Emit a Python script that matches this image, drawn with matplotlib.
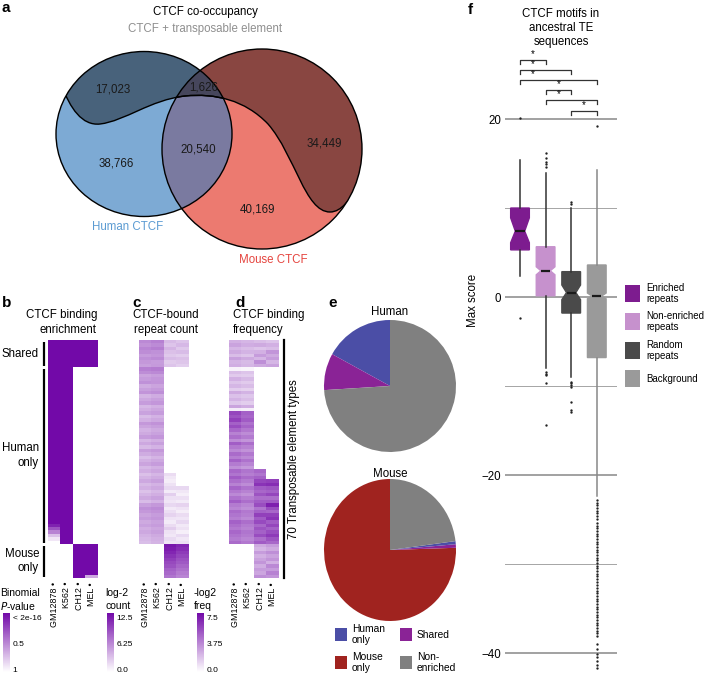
import numpy as np
import matplotlib
matplotlib.use("Agg")
import matplotlib.pyplot as plt
import matplotlib.cm as cm
from matplotlib.patches import Ellipse, PathPatch, Rectangle
from matplotlib.path import Path
from matplotlib.colors import LinearSegmentedColormap, Normalize

plt.rcParams['font.family'] = ['Liberation Sans', 'DejaVu Sans']

# ---------------- data ----------------
# a: venn counts
venn_counts = [17023, 1626, 38766, 20540, 34449, 40169]

# b-d: 70 TE types x 4 cell lines
cell_lines = ["GM12878", "K562", "CH12", "MEL"]
group_names = ["Shared", "Human\nonly", "Mouse\nonly"]
group_sizes = [8, 52, 10]

# b: binomial P-value
gm_b = [0.0] * 8 + [0.0] * 46 + [0.1, 0.3, 0.5, 0.75, 0.9, 1.0] + [1.0] * 10
k562_b = [0.0] * 8 + [0.0] * 52 + [1.0] * 10
ch12_b = [0.0] * 8 + [1.0] * 52 + [0.0] * 10
mel_b = [0.0] * 8 + [1.0] * 52 + [0.0] * 9 + [0.65]

# c: log-2 count of CTCF-bound repeats
gm_c = [6.0, 5.5, 6.2, 5.8, 5.0, 5.6, 5.2, 4.8,
        6.4, 5.8, 4.6, 5.0, 5.6, 4.2, 4.8, 5.4, 3.8, 4.4,
        5.0, 3.6, 4.1, 4.7, 3.4, 4.0, 5.2, 4.6, 3.9, 4.3,
        5.0, 3.7, 4.4, 3.5, 4.9, 4.2, 3.3, 4.0, 4.6, 3.6,
        4.1, 3.2, 3.8, 4.4, 3.5, 4.0, 3.1, 3.7, 4.3, 3.4,
        4.8, 5.6, 5.2, 4.6, 5.0, 4.3, 4.7, 4.1, 4.4, 3.9,
        3.6, 3.3] + [None] * 10
k562_c = [6.4, 5.9, 6.5, 5.6, 5.3, 5.9, 5.0, 5.1,
          6.6, 6.0, 4.9, 5.3, 5.4, 4.6, 5.1, 5.7, 4.2, 4.8,
          5.3, 4.0, 4.5, 5.0, 3.9, 4.4, 5.5, 4.9, 4.3, 4.7,
          5.3, 4.1, 4.8, 3.9, 5.2, 4.6, 3.8, 4.4, 5.0, 4.0,
          4.5, 3.7, 4.2, 4.8, 3.9, 4.4, 3.6, 4.1, 4.7, 3.9,
          5.2, 5.9, 5.5, 5.0, 5.3, 4.7, 5.0, 4.5, 4.8, 4.3,
          4.0, 3.8] + [None] * 10
ch12_c = ([3.5, 3.0, 3.8, 3.2, 2.8, 3.4, 2.6, 3.0] + [None] * 31 +
          [1.8, 1.2, 0.9, 1.5, 2.0, 1.0, 2.4, 1.6, 1.3, 2.0, 1.1,
           1.7, 2.2, 1.4, 1.0, 1.8, 2.5, 1.5, 1.2, 1.9, 1.4] +
          [11.8, 11.5, 11.0, 10.4, 9.8, 9.2, 8.8, 8.0, 7.6, 7.0])
mel_c = ([3.0, 3.6, 2.8, 3.4, 2.5, 3.2, 2.9, 2.4] + [None] * 35 +
         [2.0, 1.2, 0.8, 1.6, 1.0, 2.2, 1.4, 0.9, 1.8, 1.3, 2.0,
          1.1, 1.5, 0.8, 1.9, 1.2, 1.6] +
         [11.0, 10.6, 10.0, 9.4, 8.8, 8.4, 7.8, 7.2, 6.6, 6.2])

# d: -log2 binding frequency
gm_d = ([2.4, 2.8, 2.2, 2.6, 2.0, 2.9, 2.3, 2.5] + [0.4] +
        [2.0, 1.6, 2.4, 1.8, 2.2, 1.5, 2.6, 1.9, 2.3, 1.7, 2.8] + [0.6] +
        [5.6, 5.2, 5.8, 4.8, 5.4, 4.6, 3.8, 4.4, 3.5, 4.9,
         4.1, 3.6, 4.5, 3.9, 4.8, 4.0, 3.4, 4.6, 4.2, 5.0,
         4.4, 3.8, 4.7, 4.1, 3.6, 4.3, 4.9, 4.0, 3.7, 4.5,
         4.2, 3.9, 4.8, 4.4, 4.1, 4.6, 4.3, 4.0, 4.5] + [None] * 10)
k562_d = ([2.2, 2.5, 2.0, 2.3, 1.8, 2.6, 2.1, 2.2] + [0.3] +
          [1.8, 1.5, 2.1, 1.6, 2.0, 1.4, 2.3, 1.7, 2.0, 1.5, 2.5] + [0.5] +
          [4.8, 4.6, 5.0, 4.3, 4.7, 4.1, 3.5, 4.0, 3.2, 4.4,
           3.8, 3.3, 4.1, 3.6, 4.3, 3.7, 3.1, 4.2, 3.9, 4.5,
           4.0, 3.5, 4.3, 3.8, 3.3, 3.9, 4.4, 3.7, 3.4, 4.1,
           3.9, 3.6, 4.4, 4.0, 3.8, 4.2, 4.0, 3.7, 4.1] + [None] * 10)
ch12_d = ([2.0, 2.6, 1.8, 2.4, 3.0, 2.2, 3.4, 2.6] + [None] * 30 +
          [4.6, 4.2, 4.8, 5.6, 6.2, 5.0, 4.6, 5.2, 4.4, 4.9, 5.4,
           4.2, 4.8, 5.8, 5.0, 5.5, 4.6, 5.2, 4.8, 5.4, 4.4, 5.0] +
          [2.6, 2.2, 3.0, 2.4, 2.8, 3.2, 2.5, 3.0, 2.7, 3.4])
mel_d = ([1.8, 2.4, 2.0, 3.2, 2.6, 3.0, 2.2, 2.8] + [None] * 33 +
         [5.8, 6.4, 5.2, 4.8, 5.6, 4.4, 5.0, 6.8, 5.4, 4.6,
          5.8, 6.2, 5.0, 5.6, 4.8, 5.4, 6.0, 5.2, 4.6] +
         [3.0, 2.6, 3.4, 2.8, 3.2, 2.4, 3.6, 3.0, 3.8, 3.2])

# e: pies
pie_names = ["Human\nonly", "Shared", "Mouse\nonly", "Non-\nenriched"]
pie_colors = ['#4b4ea6', '#8a2396', '#a0231f', '#808080']
human_pie = [0.17, 0.09, 0.0, 0.74]
mouse_pie = [0.007, 0.008, 0.755, 0.23]

# f: boxplot of max motif score
box_names = ["Enriched\nrepeats", "Non-enriched\nrepeats", "Random\nrepeats", "Background"]
box_colors = ['#7d1c8f', '#c691cd', '#4a4a4a', '#9a9a9a']
box_med = [7.4, 2.95, 0.5, 0.1]
box_q1 = [5.3, 0.15, -1.8, -6.8]
box_q3 = [10.0, 5.65, 2.85, 3.6]
box_lo = [2.4, -8.0, -9.0, -22.4]
box_hi = [15.4, 13.9, 10.0, 14.3]
notch_lo = [6.1, 2.5, -0.3, -0.2]
notch_hi = [8.9, 3.4, 1.35, 0.45]
fliers = [
    [20.1, -2.4],
    [14.6, 14.9, 15.2, 15.6, 16.2, -8.4, -8.6, -8.8, -9.7, -14.4],
    [10.5, 10.7, -9.5, -9.7, -9.9, -10.1, -11.8, -12.7, -12.9],
    [19.2, -22.8, -23.1, -23.4, -23.7, -24.0, -24.3, -24.6, -24.9, -25.4,
     -25.7, -26.0, -26.3, -26.6, -26.9, -27.2, -27.5, -27.8, -28.1, -28.4,
     -28.7, -29.0, -29.3, -29.6, -29.9, -30.2, -30.5, -30.8, -31.1, -31.4,
     -31.7, -32.0, -32.4, -32.7, -33.0, -33.3, -33.6, -33.9, -34.2, -34.5,
     -34.8, -35.1, -35.4, -35.7, -36.0, -36.3, -36.6, -36.9, -37.2, -37.5,
     -37.8, -38.1, -39.0, -39.6, -40.1, -40.5, -40.9, -41.3, -41.7],
]
sig_pairs = [(1, 2), (1, 3), (1, 4), (2, 3), (2, 4), (3, 4)]
sig_y = [26.6, 25.5, 24.4, 23.3, 22.1, 20.9]

# ---------------- figure ----------------
W, H = 705, 674
fig = plt.figure(figsize=(W / 100, H / 100), dpi=100)


def px_axes(x0, y0, x1, y1):
    ax = fig.add_axes([x0 / W, 1 - y1 / H, (x1 - x0) / W, (y1 - y0) / H])
    ax.patch.set_visible(False)
    return ax


ov = fig.add_axes([0, 0, 1, 1])
ov.set_xlim(0, W)
ov.set_ylim(H, 0)
ov.axis('off')

FS = 8.3
for letter, x, y in [('a', 2, 8), ('b', 2, 303), ('c', 132, 303), ('d', 235, 303),
                     ('e', 328, 303), ('f', 468, 10)]:
    ov.text(x, y, letter, fontsize=11, fontweight='bold', va='center', ha='left')

# ---- a: venn ----
ov.text(205, 12, "CTCF co-occupancy", fontsize=FS, ha='center', va='center')
ov.text(205, 29, "CTCF + transposable element", fontsize=FS, ha='center', va='center', color='#8f8f8f')

hum = dict(xy=(144, 134), width=176, height=165)
mou = dict(xy=(262, 149), width=200, height=200)
ov.add_patch(Ellipse(**hum, facecolor='#7daad4', edgecolor='none'))
ov.add_patch(Ellipse(**mou, facecolor='#ec7a70', edgecolor='none'))

hum_clip = Ellipse(**hum, transform=ov.transData)
mou_clip = Ellipse(**mou, transform=ov.transData)

curve = [(62, 86), (70, 108), (82, 126), (100, 124), (125, 121), (150, 100), (185, 96),
         (215, 93), (245, 100), (268, 124), (295, 155), (305, 212), (330, 212),
         (342, 212), (350, 198), (356, 190)]
curve_codes = [Path.MOVETO] + [Path.CURVE4] * 15
te_verts = curve + [(420, 190), (420, 15), (20, 15), (20, 86), (62, 86)]
te_codes = curve_codes + [Path.LINETO] * 4 + [Path.CLOSEPOLY]
te_path = Path(te_verts, te_codes)

p = ov.add_patch(PathPatch(te_path, facecolor='black', alpha=0.42, edgecolor='none'))
p.set_clip_path(mou_clip)
p = ov.add_patch(Ellipse(**mou, facecolor='#7a7aa0', edgecolor='none'))
p.set_clip_path(hum_clip)
p = ov.add_patch(PathPatch(te_path, facecolor='black', alpha=0.42, edgecolor='none'))
p.set_clip_path(hum_clip)

for clip in (hum_clip, mou_clip):
    p = ov.add_patch(PathPatch(Path(curve, curve_codes), facecolor='none', edgecolor='black', lw=1.0))
    p.set_clip_path(clip)
ov.add_patch(Ellipse(**hum, facecolor='none', edgecolor='black', lw=1.0))
ov.add_patch(Ellipse(**mou, facecolor='none', edgecolor='black', lw=1.0))

venn_pos = [(113, 89), (204, 88), (116, 163), (198, 150), (324, 143), (257, 210)]
for v, (x, y) in zip(venn_counts, venn_pos):
    ov.text(x, y, f"{v:,}", fontsize=FS, ha='center', va='center', color='#1a1a1a')
ov.text(128, 227, "Human CTCF", fontsize=FS, ha='center', va='center', color='#5b9bd2')
ov.text(273, 260, "Mouse CTCF", fontsize=FS, ha='center', va='center', color='#e5443e')

# ---- b, c, d: heatmaps ----
purple = LinearSegmentedColormap.from_list('pur', ['#ffffff', '#7209a8'])
purple.set_bad('white')


def to_arr(cols):
    return np.array([[np.nan if v is None else v for v in c] for c in cols]).T


hm_top, hm_bot = 340, 578
heat = [
    (48, 98, 1 - to_arr([gm_b, k562_b, ch12_b, mel_b]), 1.0),
    (139, 189, to_arr([gm_c, k562_c, ch12_c, mel_c]), 12.5),
    (229, 279, to_arr([gm_d, k562_d, ch12_d, mel_d]), 7.5),
]
for x0, x1, arr, vmax in heat:
    ax = px_axes(x0, hm_top, x1, hm_bot)
    ax.imshow(arr, cmap=purple, norm=Normalize(0, vmax), aspect='auto', interpolation='nearest')
    ax.axis('off')
    cw = (x1 - x0) / 4
    for i, name in enumerate(cell_lines):
        ov.text(x0 + cw * (i + 0.5), 582, name + " \u2022", rotation=90, fontsize=6.4,
                ha='center', va='top')

# titles
ov.text(97, 315, "CTCF binding", fontsize=FS, ha='right', va='center')
ov.text(97, 330, "enrichment", fontsize=FS, ha='right', va='center')
ov.text(166, 315, "CTCF-bound", fontsize=FS, ha='center', va='center')
ov.text(166, 330, "repeat count", fontsize=FS, ha='center', va='center')
ov.text(233, 315, "CTCF binding", fontsize=FS, ha='left', va='center')
ov.text(233, 330, "frequency", fontsize=FS, ha='left', va='center')

# group bars on b
row_h = (hm_bot - hm_top) / sum(group_sizes)
start = 0
for name, n in zip(group_names, group_sizes):
    y0 = hm_top + start * row_h + 1.5
    y1 = hm_top + (start + n) * row_h - 1.5
    ov.plot([44, 44], [y0, y1], color='black', lw=1.6, solid_capstyle='butt')
    ov.text(39, (y0 + y1) / 2, name, fontsize=FS, ha='right', va='center', linespacing=1.25)
    start += n

# 70 TE types bar
ov.plot([284, 284], [hm_top, hm_bot], color='black', lw=1.6)
ov.text(294, (hm_top + hm_bot) / 2, "70 Transposable element types", rotation=90,
        fontsize=FS, ha='center', va='center')

# colorbars (ticks sit a little inside the bar ends)
cb_top, cb_bot = 613, 672
cbars = [
    (3, 1.0, ["< 2e-16", "0.5", "1"]),
    (107, 12.5, ["12.5", "6.25", "0.0"]),
    (197, 7.5, ["7.5", "3.75", "0.0"]),
]
for x0, vmax, labels in cbars:
    cax = px_axes(x0, cb_top, x0 + 7, cb_bot)
    span = cb_bot - cb_top
    ticks = [vmax * (1 - 4 / span), vmax * (1 - 30 / span), vmax * (3 / span)]
    cb = fig.colorbar(cm.ScalarMappable(norm=Normalize(0, vmax), cmap=purple), cax=cax, ticks=ticks)
    cb.outline.set_visible(False)
    cb.ax.set_yticklabels(labels)
    cax.tick_params(length=0, labelsize=6, pad=2)
ov.text(0, 593, "Binomial", fontsize=7.5, ha='left', va='center')
ov.text(0, 606, "$\\it{P}$-value", fontsize=7.5, ha='left', va='center')
ov.text(105, 593, "log-2", fontsize=7.5, ha='left', va='center')
ov.text(105, 606, "count", fontsize=7.5, ha='left', va='center')
ov.text(194, 593, "-log2", fontsize=7.5, ha='left', va='center')
ov.text(194, 606, "freq", fontsize=7.5, ha='left', va='center')

# ---- e: pies ----
ov.text(390, 312, "Human", fontsize=FS, ha='center', va='center')
ov.text(390, 474, "Mouse", fontsize=FS, ha='center', va='center')
for box, vals, order in [((324, 320, 456, 452), human_pie, [0, 1, 2, 3]),
                         ((324, 479, 456, 621), mouse_pie, [2, 1, 0, 3])]:
    ax = px_axes(*box)
    v = [vals[i] for i in order if vals[i] > 0]
    c = [pie_colors[i] for i in order if vals[i] > 0]
    ax.pie(v, colors=c, startangle=90, counterclock=True, wedgeprops=dict(linewidth=0))
    ax.set_aspect('auto')
    ax.set_xlim(-1, 1)
    ax.set_ylim(-1, 1)

leg_pos = [(335, 628), (400, 628), (335, 656), (400, 656)]
for name, col, (x, y) in zip(pie_names, pie_colors, leg_pos):
    ov.add_patch(Rectangle((x, y), 12, 13, facecolor=col, edgecolor='none'))
    ov.text(x + 17, y + 6.5, name, fontsize=7.4, ha='left', va='center', linespacing=1.1)

# ---- f: boxplot ----
axf = px_axes(505, 48, 617, 672)
stats = []
for i in range(4):
    stats.append(dict(med=box_med[i], q1=box_q1[i], q3=box_q3[i], whislo=box_lo[i],
                      whishi=box_hi[i], fliers=fliers[i], cilo=notch_lo[i], cihi=notch_hi[i]))
bp = axf.bxp(stats, positions=[1, 2, 3, 4], widths=0.73, patch_artist=True, shownotches=True,
             showcaps=False, medianprops=dict(color='#1a1a1a', lw=1.6),
             whiskerprops=dict(color='#333333', lw=1.1),
             flierprops=dict(marker='o', markersize=1.7, markerfacecolor='#222222',
                             markeredgecolor='none'))
for i, patch in enumerate(bp['boxes']):
    patch.set_facecolor(box_colors[i])
    patch.set_edgecolor(box_colors[i])
for w in bp['whiskers'][6:]:
    w.set_color('#888888')

for y in [20, 0, -20, -40]:
    axf.axhline(y, color='#9a9a9a', lw=1.3, zorder=0)
for y in [10, -10, -30]:
    axf.axhline(y, color='#a5a5a5', lw=0.7, zorder=0)
axf.set_xlim(0.414, 4.79)
axf.set_ylim(-42.13, 27.98)
axf.set_yticks([20, 0, -20, -40])
axf.set_yticklabels(["20", "0", "\u221220", "\u221240"])
axf.set_xticks([])
axf.tick_params(length=0, labelsize=FS, pad=3)
for s in axf.spines.values():
    s.set_visible(False)

# brackets; the star sits over the first gap of each bracket
for (a, b), y in zip(sig_pairs, sig_y):
    axf.plot([a, a, b, b], [y - 0.45, y, y, y - 0.45], color='#333333', lw=0.9, clip_on=False)
    axf.text(a + 0.5, y + 0.1, "*", fontsize=7, ha='center', va='bottom')

ov.text(473, 300, "Max score", rotation=90, fontsize=FS, ha='center', va='center')
ov.text(561, 14, "CTCF motifs in", fontsize=FS, ha='center', va='center')
ov.text(561, 28, "ancestral TE", fontsize=FS, ha='center', va='center')
ov.text(561, 42, "sequences", fontsize=FS, ha='center', va='center')

leg_y = [285, 313, 342, 370]
for name, col, y in zip(box_names, box_colors, leg_y):
    ov.add_patch(Rectangle((625, y), 15, 17, facecolor=col, edgecolor='none'))
    ov.text(646, y + 8.5, name, fontsize=7, ha='left', va='center', linespacing=1.15)

fig.savefig("out.png", dpi=100)
